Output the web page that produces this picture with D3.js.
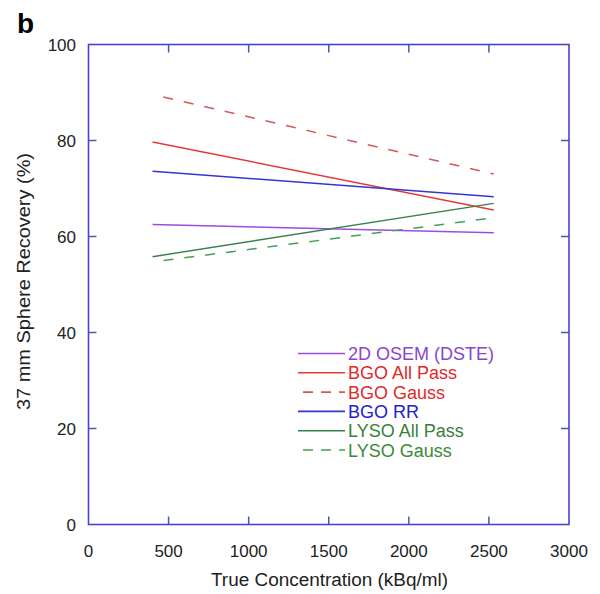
<!DOCTYPE html>
<html><head><meta charset="utf-8">
<script src="https://cdn.jsdelivr.net/npm/d3@7"></script>
<style>body{margin:0;background:#fff}svg{display:block}</style>
</head><body>
<svg id="c" width="600" height="594"></svg>
<script>
const seriesNames = ["2D OSEM (DSTE)","BGO All Pass","BGO Gauss","BGO RR","LYSO All Pass","LYSO Gauss"];
const seriesX = [400, 2530];
const osem = [62.5, 60.8];
const bgoAll = [79.7, 65.5];
const bgoGauss = [89.6, 73.0];
const bgoRR = [73.6, 68.3];
const lysoAll = [55.8, 66.9];
const lysoGauss = [54.7, 63.9];
const xTicks = [0,500,1000,1500,2000,2500,3000];
const yTicks = [0,20,40,60,80,100];

const series = [
  {name:seriesNames[0], v:osem, color:"#9b4de0", text:"#8a45cc", dash:null},
  {name:seriesNames[1], v:bgoAll, color:"#e23a3a", text:"#e02a2a", dash:null},
  {name:seriesNames[2], v:bgoGauss, color:"#d45858", text:"#e02a2a", dash:"10,11"},
  {name:seriesNames[3], v:bgoRR, color:"#3535d0", text:"#2222cc", dash:null},
  {name:seriesNames[4], v:lysoAll, color:"#3a7f4e", text:"#3a7f3a", dash:null},
  {name:seriesNames[5], v:lysoGauss, color:"#45a055", text:"#3a8a3a", dash:"10,11"}
];

const svg = d3.select("#c");
const L=88.5, R=569, T=44.5, B=524.5;
const x = d3.scaleLinear().domain([0,3000]).range([L,R]);
const y = d3.scaleLinear().domain([0,100]).range([B,T]);
const frame="#4a42d4", tickc="#55559a", font="Liberation Sans, Arial, sans-serif";

// ticks (inward, all sides)
const tl=8;
const g=svg.append("g");
xTicks.slice(1,-1).forEach(t=>{
  g.append("line").attr("x1",x(t)).attr("x2",x(t)).attr("y1",B).attr("y2",B-tl).attr("stroke",tickc).attr("stroke-width",1.5);
  g.append("line").attr("x1",x(t)).attr("x2",x(t)).attr("y1",T).attr("y2",T+tl).attr("stroke",tickc).attr("stroke-width",1.5);
});
yTicks.slice(1,-1).forEach(t=>{
  g.append("line").attr("x1",L).attr("x2",L+tl).attr("y1",y(t)).attr("y2",y(t)).attr("stroke",tickc).attr("stroke-width",1.5);
  g.append("line").attr("x1",R).attr("x2",R-tl).attr("y1",y(t)).attr("y2",y(t)).attr("stroke",tickc).attr("stroke-width",1.5);
});
svg.append("rect").attr("x",L).attr("y",T).attr("width",R-L).attr("height",B-T)
  .attr("fill","none").attr("stroke",frame).attr("stroke-width",1.6);

// tick labels
svg.append("g").selectAll("text").data(xTicks).join("text")
  .attr("x",d=>x(d)).attr("y",556.5).attr("text-anchor","middle")
  .attr("font-family",font).attr("font-size",17).attr("fill","#222").text(d=>d);
svg.append("g").selectAll("text").data(yTicks).join("text")
  .attr("x",76).attr("y",d=>y(d)+6).attr("text-anchor","end")
  .attr("font-family",font).attr("font-size",17).attr("fill","#222").text(d=>d);

// axis titles
svg.append("text").attr("x",211).attr("y",585.5)
  .attr("textLength",237).attr("lengthAdjust","spacingAndGlyphs")
  .attr("font-family",font).attr("font-size",18).attr("fill","#222").text("True Concentration (kBq/ml)");
svg.append("text").attr("transform","translate(30,410) rotate(-90)")
  .attr("textLength",257).attr("lengthAdjust","spacingAndGlyphs")
  .attr("font-family",font).attr("font-size",18).attr("fill","#222").text("37 mm Sphere Recovery (%)");
svg.append("text").attr("x",17).attr("y",33).attr("font-family",font).attr("font-weight","bold")
  .attr("font-size",28).attr("fill","#000").text("b");

// lines
const line = d3.line().x((d,i)=>x(seriesX[i])).y(d=>y(d));
series.forEach(s=>{
  svg.append("path").attr("d",line(s.v)).attr("fill","none").attr("stroke",s.color)
    .attr("stroke-width",1.5).attr("stroke-dasharray",s.dash).attr("stroke-dashoffset",s.dash?10:null);
});

// legend
const lg=svg.append("g");
series.forEach((s,i)=>{
  const yy=353.5+i*19.3;
  lg.append("line").attr("x1",s.dash?303:298).attr("x2",345).attr("y1",yy).attr("y2",yy)
    .attr("stroke",s.color).attr("stroke-width",1.6).attr("stroke-dasharray",s.dash?"10,8":null);
  lg.append("text").attr("x",348).attr("y",yy+6.5).attr("font-family",font).attr("font-size",18)
    .attr("fill",s.text).text(s.name);
});
</script>
</body></html>
